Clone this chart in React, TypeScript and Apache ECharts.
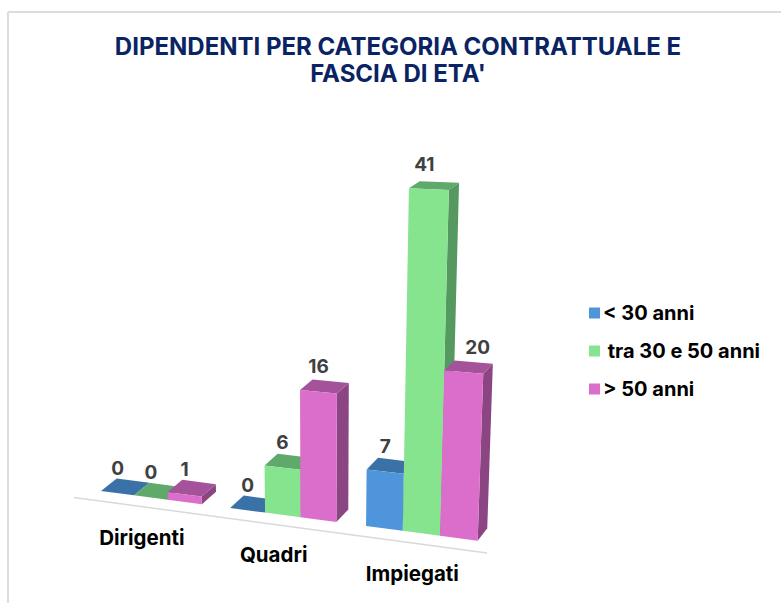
import React, { useEffect, useRef } from "react";
import * as echarts from "echarts";

const titleText = "DIPENDENTI PER CATEGORIA CONTRATTUALE E\nFASCIA DI ETA'";
const categories = ["Dirigenti", "Quadri", "Impiegati"];
const seriesNames = ["< 30 anni", " tra 30 e 50 anni", "> 50 anni"];
const under30 = [0, 0, 7];
const from30to50 = [0, 6, 41];
const over50 = [1, 16, 20];
const seriesValues = [under30, from30to50, over50];

const frontColors = ["#4F95DC", "#86E48F", "#DB6DCB"];
const topColors = ["#3A72A8", "#5FA96A", "#A4539A"];
const sideColors = ["#2F5F8F", "#559860", "#8B4582"];

const FONT = "Inter";
const GRID = { left: 87.5, top: 180, width: 377.25, height: 328 };
const ORIGIN_X = 101;
const BAR_SHARE = 0.262;

// Perspective projection of flat grid coordinates onto the tilted floor.
function project(u: number, h: number, depth: number, band: number): [number, number] {
  const g = (u - ORIGIN_X) / band;
  const x0 = u + 3.4 * g * g;
  const y0 = 491 + 0.1318 * (x0 - ORIGIN_X);
  const H = (h * (7.5 + 0.0021 * (x0 - ORIGIN_X)) / 8) * (1 + 2.5e-7 * h * h);
  let x = x0 + (H * (x0 - 317)) / 4800;
  let y = y0 - H;
  if (depth) {
    x += 15.8 - 0.0165 * (x0 - 100);
    y -= 12.5 - 0.0155 * H;
  }
  return [x, y];
}

const labelShiftX: Record<string, number> = { "1-2": -4.5, "2-2": 14 };

function barRenderer(seriesIndex: number) {
  return (params: any, api: any) => {
    const cat = api.value(0);
    const value = api.value(1);
    const base = api.coord([cat, 0]);
    const top = api.coord([cat, value]);
    const band = api.size([1, 0])[0];
    const w = BAR_SHARE * band;
    const u0 = base[0] + (seriesIndex - 1.5) * w;
    const u1 = u0 + w;
    const h = base[1] - top[1];
    const fbl = project(u0, 0, 0, band);
    const fbr = project(u1, 0, 0, band);
    const ftl = project(u0, h, 0, band);
    const ftr = project(u1, h, 0, band);
    const bbr = project(u1, 0, 1, band);
    const btl = project(u0, h, 1, band);
    const btr = project(u1, h, 1, band);
    const shift = labelShiftX[`${seriesIndex}-${cat}`] || 0;
    const labelX = (ftl[0] + ftr[0]) / 2 + shift;
    const labelY = (ftl[1] + ftr[1]) / 2 - 25;
    return {
      type: "group",
      children: [
        { type: "polygon", shape: { points: [fbr, bbr, btr, ftr] }, style: { fill: sideColors[seriesIndex] } },
        { type: "polygon", shape: { points: [ftl, btl, btr, ftr] }, style: { fill: topColors[seriesIndex] } },
        { type: "polygon", shape: { points: [fbl, fbr, ftr, ftl] }, style: { fill: frontColors[seriesIndex] } },
        {
          type: "text",
          style: {
            x: labelX,
            y: labelY,
            text: String(value),
            fill: "#404040",
            font: `700 19px ${FONT}`,
            align: "center",
            verticalAlign: "middle",
          },
        },
      ],
    };
  };
}

function categoryRenderer(params: any, api: any) {
  const cat = api.value(0);
  const base = api.coord([cat, 0]);
  const band = api.size([1, 0])[0];
  const p = project(base[0], 0, 0, band);
  return {
    type: "text",
    style: {
      x: p[0] - 9,
      y: p[1] + 40,
      text: categories[cat],
      fill: "#000000",
      font: `700 20.5px ${FONT}`,
      align: "center",
      verticalAlign: "middle",
    },
  };
}

export default function App() {
  const ref = useRef<HTMLDivElement>(null);
  useEffect(() => {
    const chart = echarts.init(ref.current!, undefined, { renderer: "svg" });
    chart.setOption({
      animation: false,
      backgroundColor: "#ffffff",
      title: {
        text: titleText,
        left: 393,
        top: 28,
        textAlign: "center",
        textStyle: { color: "#0A2463", fontFamily: FONT, fontWeight: 700, fontSize: 24, lineHeight: 27 },
      },
      legend: {
        orient: "vertical",
        left: 584,
        top: 298,
        itemWidth: 11,
        itemHeight: 11,
        itemGap: 18,
        icon: "rect",
        selectedMode: false,
        data: seriesNames,
        textStyle: { color: "#000000", fontFamily: FONT, fontWeight: 700, fontSize: 20, lineHeight: 18, padding: [0, 0, 0, -2] },
      },
      grid: { ...GRID },
      xAxis: { type: "category", data: categories, show: false },
      yAxis: { type: "value", min: 0, max: 41, show: false },
      graphic: [
        { type: "line", shape: { x1: 8, y1: 12, x2: 781, y2: 12 }, style: { stroke: "#DCDCDC", lineWidth: 2 } },
        { type: "line", shape: { x1: 8, y1: 12, x2: 8, y2: 603 }, style: { stroke: "#DCDCDC", lineWidth: 2 } },
        { type: "line", shape: { x1: 74, y1: 497.5, x2: 487, y2: 553 }, style: { stroke: "#D9D9D9", lineWidth: 1.5 } },
      ],
      series: [
        ...seriesNames.map((name, s) => ({
          type: "custom",
          name,
          clip: false,
          itemStyle: { color: frontColors[s] },
          encode: { x: 0, y: 1 },
          data: seriesValues[s].map((v, i) => [i, v]),
          renderItem: barRenderer(s),
        })),
        {
          type: "custom",
          name: "categorie",
          clip: false,
          encode: { x: 0 },
          data: categories.map((_, i) => [i]),
          renderItem: categoryRenderer,
        },
      ],
    });
    return () => chart.dispose();
  }, []);
  return <div ref={ref} style={{ position: "absolute", left: 0, top: 0, width: 781, height: 603 }} />;
}
